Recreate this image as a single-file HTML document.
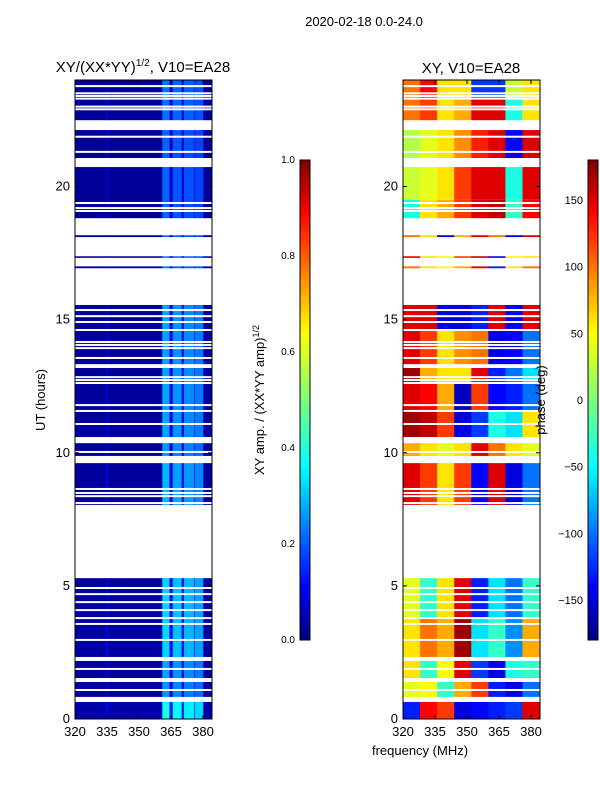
<!DOCTYPE html>
<html><head><meta charset="utf-8"><style>
html,body{margin:0;padding:0;background:#fff;}
svg{display:block;font-family:"Liberation Sans",sans-serif;}
</style></head><body>
<svg id="chart" width="600" height="800" viewBox="0 0 600 800" xmlns="http://www.w3.org/2000/svg">
<defs>
<linearGradient id="jet" x1="0" y1="1" x2="0" y2="0">
<stop offset="0" stop-color="#000080"/><stop offset="0.11" stop-color="#0000ff"/>
<stop offset="0.36" stop-color="#00ffff"/><stop offset="0.5" stop-color="#7dff7a"/><stop offset="0.64" stop-color="#ffff00"/>
<stop offset="0.89" stop-color="#ff0000"/><stop offset="1" stop-color="#800000"/>
</linearGradient>
</defs>
<text x="364" y="26" font-size="13" text-anchor="middle">2020-02-18 0.0-24.0</text>
<text x="143" y="72" font-size="15" text-anchor="middle">XY/(XX*YY)<tspan font-size="10" dy="-6">1/2</tspan><tspan dy="6">, V10=EA28</tspan></text>
<text x="471" y="73" font-size="15" text-anchor="middle">XY, V10=EA28</text>
<g id="ampPanel"></g>
<g id="phPanel"></g>
<g id="axes"></g>
<text transform="translate(45,400) rotate(-90)" font-size="13" text-anchor="middle">UT (hours)</text>
<text x="420" y="755" font-size="13" text-anchor="middle">frequency (MHz)</text>
<text transform="translate(264,400) rotate(-90)" font-size="13" text-anchor="middle">XY amp. / (XX*YY amp)<tspan font-size="9" dy="-5">1/2</tspan></text>
<text transform="translate(545,400) rotate(-90)" font-size="13" text-anchor="middle">phase (deg)</text>
<rect x="300" y="160" width="10" height="480" fill="url(#jet)" stroke="#000" stroke-width="1"/>
<rect x="588" y="160" width="10" height="480" fill="url(#jet)" stroke="#000" stroke-width="1"/>
<g id="cbticks"></g>
</svg>
<script>
// ---- data ----
const hourTicks=[0,5,10,15,20];
const freqTicks=[320,335,350,365,380];
const blockStart=[0,0.83,1.54,2.33,8.04,9.88,10.59,16.93,17.32,18.10,18.81,21.07,22.49];
const blockEnd  =[0.64,1.39,2.18,5.29,9.61,10.36,15.55,17.00,17.38,18.17,20.73,22.12,24.0];
const ampBlockLevel=[1.2,0.8,0.85,1.0,0.9,0.8,0.85,0.7,0.7,0.7,0.65,0.65,0.7];
const gapHours=[23.77,23.5,23.4,23.3,23.0,22.9,21.87,21.3,19.38,19.19,19.08,15.36,15.13,14.91,14.61,14.16,14.05,13.93,13.56,13.29,13.22,12.84,12.73,12.62,11.79,11.57,11.08,10.03,8.64,8.49,8.37,8.11,4.92,4.69,4.39,4.09,3.79,3.57,2.97,1.88,1.09];
const ampFreqEdges=[320,334.5,335.5,360.9,364.3,365.8,370,371,375.8,376.1,380.1,384.2];
const ampFreqVals =[0.03,0.09,0.03,0.32,0.11,0.30,0.11,0.29,0.1,0.27,0.03];
const phaseFreqBins=[320,328,336,344,352,360,368,376,384.2];
const phaseRowStart=[0,0.83,1.54,2.33,3.8,8.04,9.88,10.59,11.6,12.6,13.3,14.6,16.93,17.32,18.10,18.81,19.5,21.07,22.49,23.3];
const phaseRowEnd  =[0.64,1.39,2.18,3.8,5.29,9.61,10.36,11.6,12.6,13.3,14.6,15.55,17.0,17.38,18.17,19.5,20.73,22.12,23.3,24.0];
const phaseVals=[
[-130,140,120,-150,-140,-130,-120,150],
[40,50,-30,80,120,-130,-150,-100],
[60,-30,50,150,-120,-150,-40,-30],
[60,100,80,170,-60,-30,-90,80],
[40,-30,60,150,-130,-60,-100,-30],
[150,120,60,120,-140,150,-150,-100],
[80,60,40,60,150,100,60,40],
[170,160,120,-150,-120,-40,-60,60],
[150,140,80,-160,120,-140,-130,-100],
[170,80,60,60,150,-130,-100,-60],
[150,120,60,90,100,-150,-140,-100],
[150,150,-150,-150,-130,150,-140,150],
[100,60,50,80,150,-130,60,100],
[150,60,50,120,160,-150,50,60],
[100,60,-150,80,150,100,-150,150],
[-40,60,80,120,150,160,-30,140],
[30,40,60,120,150,150,-40,150],
[20,40,60,90,130,150,-140,150],
[100,120,60,80,150,150,-40,60],
[100,140,60,60,-120,-120,30,60]];
// ---- scales ----
const y0=719,y1=80,H0=0,H1=24;
function yS(h){return y0-(h-H0)/(H1-H0)*(y0-y1);}
function xS(f,left){return left+(f-320)/(384.2-320)*137;}
function jet(v){
 const st=[[0,[0,0,128]],[0.11,[0,0,255]],[0.36,[0,255,255]],[0.5,[125,255,122]],[0.64,[255,255,0]],[0.89,[255,0,0]],[1,[128,0,0]]];
 v=Math.max(0,Math.min(1,v));
 for(let i=1;i<st.length;i++){if(v<=st[i][0]){const a=st[i-1],b=st[i],t=(v-a[0])/(b[0]-a[0]);
 return 'rgb('+a[1].map((c,k)=>Math.round(c+(b[1][k]-c)*t)).join(',')+')';}}
 return 'rgb(128,0,0)';
}
const NS='http://www.w3.org/2000/svg';
function mk(tag,attrs,parent){const e=document.createElementNS(NS,tag);for(const k in attrs)e.setAttribute(k,attrs[k]);parent.appendChild(e);return e;}
const amp=document.getElementById('ampPanel'), ph=document.getElementById('phPanel');
// amplitude
for(let b=0;b<blockStart.length;b++){
 const ya=yS(blockEnd[b]),yb=yS(blockStart[b]);
 for(let i=0;i<ampFreqVals.length;i++){
  const r=mk('rect',{x:xS(ampFreqEdges[i],75),y:ya,width:xS(ampFreqEdges[i+1],75)-xS(ampFreqEdges[i],75)+0.3,height:yb-ya,fill:jet(ampFreqVals[i]*ampBlockLevel[b])},amp);
  
  
 }
}
// phase
for(let r=0;r<phaseRowStart.length;r++){
 const ya=yS(phaseRowEnd[r]),yb=yS(phaseRowStart[r]);
 for(let i=0;i<phaseVals[r].length;i++){
  const c=mk('rect',{x:xS(phaseFreqBins[i],403),y:ya,width:xS(phaseFreqBins[i+1],403)-xS(phaseFreqBins[i],403)+0.3,height:yb-ya,fill:jet((phaseVals[r][i]+180)/360)},ph);
  
  
 }
}
// thin gaps
for(const g of gapHours){
 for(const left of [75,403]){
  const l=mk('rect',{x:left,y:yS(g)-1,width:137,height:2,fill:'#fff'},left===75?amp:ph);
  
  
 }
}
// axes
const ax=document.getElementById('axes');
for(const left of [75,403]){
 const f=mk('rect',{x:left,y:80,width:137,height:639,fill:'none',stroke:'#000','stroke-width':1},ax);
 
 
 for(const h of hourTicks){
  const y=yS(h);
  mk('line',{x1:left,x2:left+4,y1:y,y2:y,stroke:'#000'},ax);
  mk('line',{x1:left+137,x2:left+133,y1:y,y2:y,stroke:'#000'},ax);
  const t=mk('text',{x:left-5,y:y+4,'font-size':13,'text-anchor':'end'},ax);
  t.textContent=h;
  
  
 }
 for(const fq of freqTicks){
  const x=xS(fq,left);
  mk('line',{x1:x,x2:x,y1:719,y2:715,stroke:'#000'},ax);
  mk('line',{x1:x,x2:x,y1:80,y2:84,stroke:'#000'},ax);
  const t=mk('text',{x:x,y:736,'font-size':13,'text-anchor':'middle'},ax);
  t.textContent=fq;
  
  
 }
}
// colorbar ticks
const cb=document.getElementById('cbticks');
const ampCbTicks=[0.0,0.2,0.4,0.6,0.8,1.0];
const phCbTicks=[-150,-100,-50,0,50,100,150];
for(const v of ampCbTicks){
 const y=640-v*480;
 const t=mk('text',{x:295,y:y+3,'font-size':10,'text-anchor':'end'},cb);
 t.textContent=v.toFixed(1);
 
 
}
for(const v of phCbTicks){
 const y=640-(v+180)/360*480;
 const t=mk('text',{x:583,y:y+4,'font-size':11,'text-anchor':'end'},cb);
 t.textContent=v<0?'\u2212'+(-v):String(v);
 
 
}
</script>
</body></html>
